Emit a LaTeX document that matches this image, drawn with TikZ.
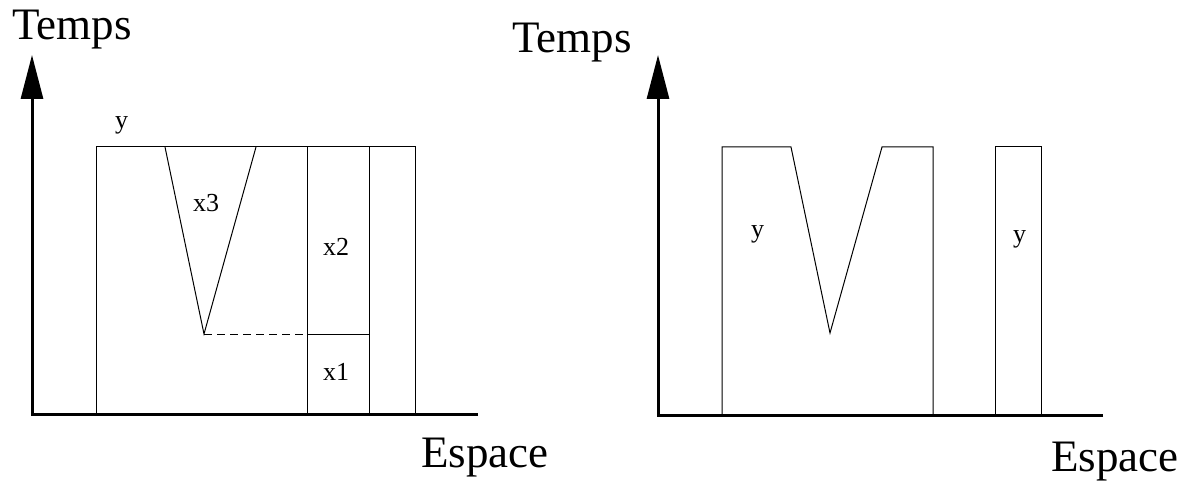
\documentclass[tikz,border=0pt]{standalone}
\usepackage{fontspec}
\setmainfont{Liberation Serif}
\usetikzlibrary{arrows.meta}
\tikzset{
  axis/.style={line width=3pt,line join=miter,-{Triangle[length=44pt,width=22pt]}},
  zone/.style={line width=1pt,line join=miter},
  cut/.style={line width=1pt,dash pattern=on 8pt off 5pt},
  axlbl/.style={font=\fontsize{45}{50}\selectfont,inner sep=0pt,anchor=base west},
  lbl/.style={font=\fontsize{26}{30}\selectfont,inner sep=0pt,anchor=base west}
}
\begin{document}
\begin{tikzpicture}[x=1pt,y=-1pt]
  \useasboundingbox (0,0) rectangle (1182,481);
  % left diagram
  \coordinate (oL) at (32,414);
  \draw[axis] (478,414) -- (oL) -- (32,55);
  \node[axlbl] (tL) at (12,40) {Temps};
  \node[axlbl] (eL) at (421,467) {Espace};
  \draw[zone] (96,414) -- (96,147) -- (415,147) -- (415,414);
  \coordinate (vL) at (204,334);
  \draw[zone] (165,147) -- (vL) -- (256,147);
  \draw[zone] (307,147) -- (307,414);
  \draw[zone] (369,147) -- (369,414);
  \coordinate (cL) at (307,334);
  \draw[zone] (cL) -- (369,334);
  \draw[cut] (vL) -- (cL);
  \node[lbl] (yL) at (115,129) {y};
  \node[lbl] (x3) at (193,211) {x3};
  \node[lbl] (x2) at (323,255) {x2};
  \node[lbl] (x1) at (323,380) {x1};
  % right diagram
  \coordinate (oR) at (658,415);
  \draw[axis] (1103,415) -- (oR) -- (658,55);
  \node[axlbl] (tR) at (512,53) {Temps};
  \node[axlbl] (eR) at (1051,471) {Espace};
  \draw[zone] (722,415) -- (722,147) -- (791,147) -- (830,333) -- (882,147) -- (933,147) -- (933,415);
  \draw[zone] (995,415) -- (995,147) -- (1041,147) -- (1041,415);
  \node[lbl] (yR1) at (751,237) {y};
  \node[lbl] (yR2) at (1013,242) {y};
\end{tikzpicture}
\end{document}
